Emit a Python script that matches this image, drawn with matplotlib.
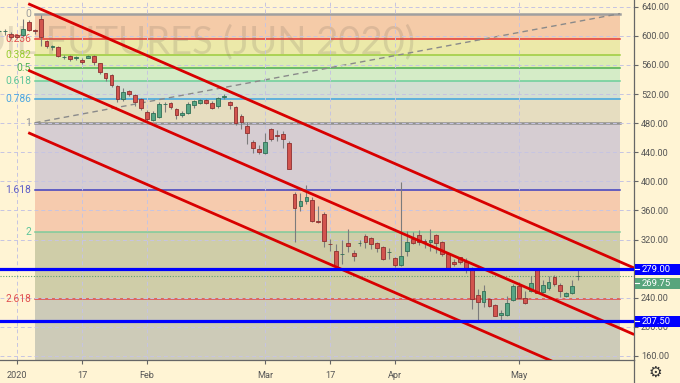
import numpy as np
import matplotlib.pyplot as plt
from matplotlib.transforms import blended_transform_factory
from matplotlib.patches import Rectangle
from matplotlib.lines import Line2D

plt.rcParams['font.family'] = ['Roboto', 'DejaVu Sans']

# daily bars, first one is 3 sessions before 2 Jan 2020
first_bar = -3
opens = [606, 606, 602.6, 601, 601, 618.5, 608, 623, 592.4, 585, 584.7, 571, 572, 570, 567, 570, 572, 562,
         548.2, 546.8, 530.7, 513.5, 524.8, 518, 512.5, 495.1, 484.1, 488.8, 505.7, 507, 498.8, 491, 494.3,
         504.3, 507, 511.6, 508, 503.3, 516.5, 509.4, 502.5, 489.6, 476, 454.5, 444.9, 438.5, 471.4, 463.5,
         465.5, 453, 382, 366.2, 373.1, 374.5, 345.7, 355.8, 314, 304.6, 299.5, 315.1, 301, 315, 325.1,
         321.5, 314.6, 309.2, 302.4, 294.1, 285.4, 304.6, 320.6, 326, 317.9, 316, 326, 316.9, 300, 289.5,
         295.5, 288.6, 279.5, 243.8, 233.8, 238.3, 230.1, 216.4, 216.4, 237.4, 255.7, 239.3, 249.7, 277.5,
         248.3, 253, 268, 257.5, 242, 246.6, 269.6]
highs = [608, 609.4, 604.8, 603, 623, 622, 610, 629, 594.8, 588, 585.6, 574, 574, 572, 569, 574, 573, 563,
         549.5, 548, 532, 528.5, 526, 519.5, 514, 498, 496, 509, 509, 509, 501, 496, 509,
         512, 513, 513, 510, 516, 520, 511, 503.5, 493, 481.4, 456.7, 449.5, 466.8, 473.6, 471,
         469, 455, 385, 384.6, 394.6, 378, 366.2, 358, 321, 313.7, 320, 334.3, 306, 320, 327,
         324, 317, 311, 309, 296, 399.5, 332, 330, 332.9, 321, 335.2, 327, 318, 300.5, 293,
         296.5, 294, 281.8, 252, 257, 240, 231, 223, 243, 259, 261.5, 250, 270.5, 277.5,
         265, 270, 271, 260.5, 247.5, 265, 278]
lows = [604, 601.6, 595.7, 597, 600, 606, 603, 585.6, 583.4, 581, 570.5, 568, 566, 567, 561, 569, 560, 548,
        538, 530, 509, 510, 517, 503, 498, 482, 482.5, 487, 495, 499, 486, 489, 492,
        501, 506, 506, 499, 501, 513, 500, 478, 472, 450.8, 439.4, 437, 437, 456, 455,
        446, 417, 317, 359, 368.6, 344, 343.4, 309.2, 303.6, 282, 286, 302.4, 291, 311, 309,
        307, 303, 292, 293, 282, 284, 297.7, 314, 312.4, 308, 304.6, 302, 298, 280.5, 283,
        287, 274, 224.6, 208.6, 228, 227, 214.5, 210, 215, 236, 238.5, 231.5, 247.5, 246,
        246, 251, 256, 241.5, 240.5, 245.5, 264.5]
closes = [606, 606.5, 598, 599, 609, 608.5, 607, 598.5, 586.5, 586, 572, 571.5, 568.3, 570.5, 564, 572, 563.6,
          550.5, 542.3, 533, 513.5, 523, 520.7, 508.8, 501.1, 485.1, 494.3, 505.7, 506.2, 502.5, 490.6, 494.3,
          505.7, 510.2, 511.6, 508, 501, 514.8, 517.5, 504.3, 480.6, 481.4, 466.9, 446.3, 440.3, 454, 458.6,
          463, 457.7, 417.5, 364, 373.1, 378.6, 345.7, 344.3, 318.3, 313.4, 284, 300.5, 310.6, 296.9, 315.5,
          316, 313.7, 307.8, 293.2, 303, 285, 296.9, 316, 315.1, 316.9, 315.1, 319.2, 315.1, 300, 280.8,
          286.3, 288.6, 279.5, 238.3, 233.8, 249.7, 228.3, 215.5, 219.2, 232.9, 256.6, 239.3, 232.4, 260.3,
          246.6, 257.5, 261.2, 258.9, 249.7, 246.6, 256.6, 269.75]

tick_pos = [0, 11, 22, 42, 53, 64, 85]
tick_labels = ['2020', '17', 'Feb', 'Mar', '17', 'Apr', 'May']
price_ticks = list(range(160, 641, 40))

# fibonacci extension
fib_ratios = [0, 0.236, 0.382, 0.5, 0.618, 0.786, 1, 1.618, 2, 2.618, 3.618]
fib_labels = ['0', '0.236', '0.382', '0.5', '0.618', '0.786', '1', '1.618', '2', '2.618']
fib_top = 630.5
fib_span = 150.0
fib_x = [3.05, 102.1]
trend_y = [480.5, 630.5]

# descending channel, start price at bar 1.9 and drop per bar
channel_x = [1.9, 104.5]
channel_start = [644.1, 552.7, 466.9]
channel_slope = -3.54

levels = [279.0, 207.5]
last_price = 269.75

BG = '#FFF4D4'
line_cols = ['#A0A0A0', '#E53935', '#9CCC3C', '#4CAF50', '#6ACF9A', '#3DA5E0', '#909090',
             '#3F3FBF', '#7DCB9B', '#E04848']
text_cols = ['#9E9E9E', '#E05050', '#9ACD32', '#4CAF50', '#5CC59A', '#4FA8E0', '#8F8F8F',
             '#5C5CC8', '#5CC59A', '#E05050']
band_cols = ['#F5CBA8', '#ECE9A9', '#DCEDB2', '#D5ECC7', '#D3DFD2', '#E6DDC0', '#D6CDD2',
             '#F6CBAE', '#CFCDA8', '#CDCBB8']

fig = plt.figure(figsize=(6.8, 3.83), dpi=100)
fig.patch.set_facecolor(BG)
ax = fig.add_axes([0, 23 / 383, 634 / 680, 360 / 383])
ax.set_facecolor(BG)
ax.set_xlim(-2.88, 104.47)
ax.set_ylim(154.5, 649.2)

fib_prices = [fib_top - r * fib_span for r in fib_ratios]
for i in range(len(fib_prices) - 1):
    ax.fill_between(fib_x, fib_prices[i + 1], fib_prices[i], color=band_cols[i], lw=0, zorder=0.1)
for i, lbl in enumerate(fib_labels):
    ax.plot(fib_x, [fib_prices[i]] * 2, color=line_cols[i],
            lw=1.8 if lbl in ('0', '1') else 1.1, zorder=0.3)
    ax.annotate(lbl, xy=(fib_x[0], fib_prices[i]), xytext=(-3, 0), textcoords='offset points',
                ha='right', va='center', color=text_cols[i], fontsize=7.4)
ax.plot(fib_x, trend_y, color='#8A8A8A', ls=(0, (4, 3)), lw=1, zorder=0.35)

ax.text(67.4, 591.5, 'OIL FUTURES (JUN 2020)', ha='right', va='center', fontsize=27.5,
        family='Lato', color='#7A7060', alpha=0.2, zorder=0.32)

ax.grid(True, color='#C6C4E2', ls=(0, (4, 3)), lw=0.7)
ax.set_axisbelow(True)

# candles
o, h, l, c = map(np.array, (opens, highs, lows, closes))
x = np.arange(first_bar, first_bar + len(o))
up = c >= o
ax.vlines(x, l, h, color='#7C7C7C', lw=0.8, zorder=2.5)
ax.bar(x[up], c[up] - o[up], bottom=o[up], width=0.64, color='#58A585', edgecolor='#2F6F55',
       lw=0.6, zorder=3)
ax.bar(x[~up], o[~up] - c[~up], bottom=c[~up], width=0.64, color='#D2544E', edgecolor='#8E3030',
       lw=0.6, zorder=3)

for p0 in channel_start:
    ys = [p0, p0 + channel_slope * (channel_x[1] - channel_x[0])]
    ax.plot(channel_x, ys, color='#D80000', lw=2.0, zorder=4, solid_capstyle='butt')

ax.axhline(last_price, color='#5E9E70', ls=(0, (1, 1.5)), lw=0.8, zorder=2)
for lv in levels:
    ax.axhline(lv, color='#0000FF', lw=2.3, zorder=4.5)

# axes look
for s in ('top', 'left'):
    ax.spines[s].set_visible(False)
for s in ('right', 'bottom'):
    ax.spines[s].set_color('#666666')
    ax.spines[s].set_linewidth(0.9)
ax.yaxis.tick_right()
ax.set_yticks(price_ticks)
ax.set_yticklabels([f'{p:.2f}' for p in price_ticks])
ax.set_xticks(tick_pos)
ax.set_xticklabels(tick_labels)
ax.tick_params(axis='y', length=3, color='#666666', labelcolor='#555555', labelsize=6.6, pad=2)
ax.tick_params(axis='x', length=3, color='#666666', labelcolor='#555555', labelsize=6.6, pad=5)
fig.add_artist(Line2D([634 / 680] * 2, [0, 23 / 383], color='#666666', lw=0.9))

# price boxes on the scale; the last-price box is nudged down so it clears the 279 box
trans = blended_transform_factory(ax.transAxes, ax.transData)
for val, fc, shift in [(279.0, '#0000FF', 0), (last_price, '#58A57C', -9.8), (207.5, '#0000FF', 0)]:
    yc = val + shift
    ax.add_patch(Rectangle((1.002, yc - 7.2), 0.075, 14.4, transform=trans, fc=fc, ec='none',
                           clip_on=False, zorder=5))
    ax.add_line(Line2D([1.002, 1.008], [yc, yc], transform=trans, color='white', lw=0.8,
                       clip_on=False, zorder=6))
    ax.text(1.012, yc, f'{val:.2f}', transform=trans, ha='left', va='center', color='white',
            fontsize=6.8, zorder=6, clip_on=False)

fig.text(655 / 680, 1 - 372 / 383, '\u2699', family='DejaVu Sans', fontsize=11, color='#333333',
         ha='center', va='center')

fig.savefig('out.png', dpi=100, facecolor=BG)
